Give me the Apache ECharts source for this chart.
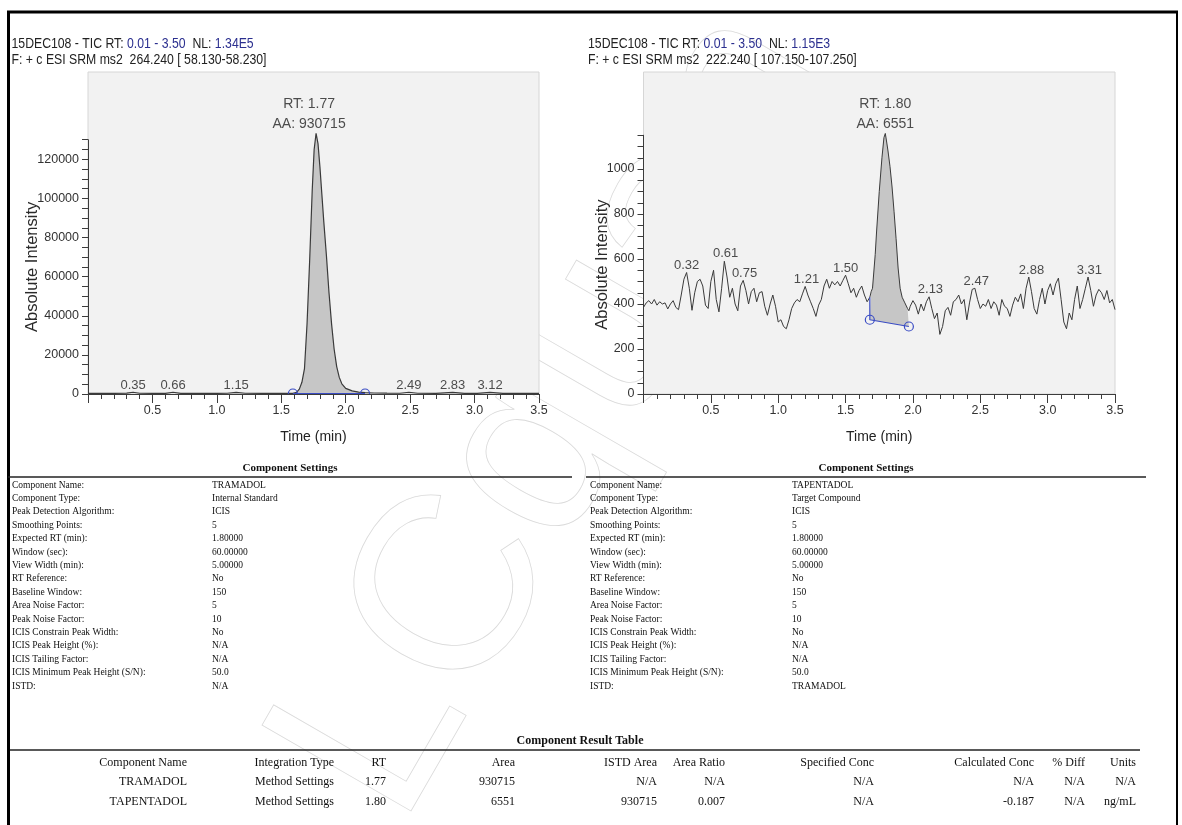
<!DOCTYPE html>
<html>
<head>
<meta charset="utf-8">
<script src="https://cdn.jsdelivr.net/npm/echarts@6/dist/echarts.min.js"></script>
<style>
html,body{margin:0;padding:0;background:#fff;}
#c{width:1182px;height:825px;}
</style>
</head>
<body>
<div id="c"></div>
<script>
// ---------------- DATA ----------------
// Left chromatogram (TRAMADOL, m/z 264.240)
const leftTrace = [
  [0.00,300],[0.10,350],[0.20,320],[0.30,400],[0.35,900],[0.40,380],[0.50,320],[0.60,360],[0.66,900],
  [0.72,360],[0.85,320],[1.00,340],[1.08,380],[1.15,800],[1.22,380],[1.35,320],[1.50,350],[1.59,350],
  [1.60,400],[1.62,900],[1.64,2500],[1.66,6000],[1.68,13000],[1.70,36000],[1.72,68000],[1.74,104000],
  [1.755,125000],[1.77,133300],[1.785,128000],[1.80,116000],[1.815,102000],[1.83,88000],[1.85,71000],
  [1.87,52000],[1.89,36000],[1.91,23000],[1.93,14000],[1.95,8500],[1.97,5200],[2.00,2900],[2.05,1600],
  [2.10,1000],[2.15,700],[2.22,500],[2.32,420],[2.42,380],[2.49,900],[2.56,380],[2.70,340],[2.83,850],
  [2.92,360],[3.02,330],[3.12,800],[3.22,360],[3.35,320],[3.50,300]
];
const leftBaseline = [[1.59,250],[2.15,250]];
const leftPeakLabels = [[0.35,900],[0.66,900],[1.15,800],[2.49,900],[2.83,850],[3.12,800]];
const leftApex = [1.77,133300];
const leftApexText = ['RT: 1.77','AA: 930715'];

// Right chromatogram (TAPENTADOL, m/z 222.240)
const rightTrace = [
  [0.00,385],[0.02,405],[0.04,415],[0.06,400],[0.08,420],[0.10,395],[0.12,410],[0.14,400],[0.16,405],
  [0.18,378],[0.20,400],[0.22,415],[0.24,385],[0.26,375],[0.28,440],[0.30,510],[0.32,540],[0.34,470],
  [0.36,372],[0.38,450],[0.40,500],[0.42,510],[0.44,480],[0.46,395],[0.48,380],[0.50,500],[0.52,550],
  [0.54,420],[0.56,365],[0.58,470],[0.60,590],[0.61,595],[0.62,520],[0.64,430],[0.66,470],[0.68,400],
  [0.70,370],[0.72,480],[0.74,505],[0.76,460],[0.78,400],[0.80,455],[0.82,470],[0.84,410],[0.86,450],
  [0.88,455],[0.90,390],[0.92,350],[0.94,400],[0.96,440],[0.98,390],[1.00,320],[1.02,330],[1.04,300],
  [1.06,290],[1.08,330],[1.10,380],[1.12,405],[1.14,420],[1.16,410],[1.18,445],[1.20,478],[1.22,440],
  [1.24,410],[1.26,380],[1.28,345],[1.30,395],[1.32,420],[1.34,480],[1.36,510],[1.38,470],[1.40,500],
  [1.42,485],[1.44,500],[1.46,480],[1.48,505],[1.50,528],[1.52,490],[1.54,450],[1.56,470],[1.58,430],
  [1.60,460],[1.62,480],[1.64,440],[1.66,410],[1.68,430],[1.69,455],[1.70,470],[1.72,620],[1.73,720],
  [1.75,900],[1.77,1050],[1.785,1140],[1.795,1158],[1.805,1120],[1.815,1080],[1.83,1010],[1.845,920],
  [1.86,810],[1.875,690],[1.89,560],[1.905,470],[1.92,430],[1.94,405],[1.96,380],[1.97,370],[1.98,390],
  [2.00,415],[2.02,395],[2.04,355],[2.06,400],[2.08,370],[2.10,410],[2.12,432],[2.14,380],[2.16,335],
  [2.18,360],[2.20,265],[2.22,300],[2.24,370],[2.26,385],[2.28,350],[2.30,410],[2.32,420],[2.34,440],
  [2.36,400],[2.38,420],[2.40,330],[2.42,405],[2.44,465],[2.46,470],[2.48,420],[2.50,380],[2.52,400],
  [2.54,390],[2.56,420],[2.58,380],[2.60,410],[2.62,395],[2.64,350],[2.66,420],[2.68,390],[2.70,380],
  [2.72,345],[2.74,395],[2.76,430],[2.78,410],[2.80,445],[2.82,380],[2.84,470],[2.86,520],[2.88,455],
  [2.90,380],[2.92,355],[2.94,420],[2.96,470],[2.98,400],[3.00,460],[3.02,490],[3.04,440],[3.06,490],
  [3.08,515],[3.10,420],[3.12,320],[3.14,290],[3.16,360],[3.18,330],[3.20,420],[3.22,480],[3.24,380],
  [3.26,420],[3.28,470],[3.30,520],[3.32,460],[3.34,390],[3.36,440],[3.38,465],[3.40,450],[3.42,420],
  [3.44,460],[3.46,405],[3.48,420],[3.50,375]
];
const rightBaseline = [[1.68,330],[1.97,300]];
const rightPeakLabels = [[0.32,540],[0.61,595],[0.75,505],[1.21,478],[1.50,528],[2.13,432],[2.47,470],[2.88,520],[3.31,520]];
const rightApex = [1.795,1158];
const rightApexText = ['RT: 1.80','AA: 6551'];

// Axis ranges / tick labels
const timeRange = [0, 3.5];
const leftYAxisTop = 130000, leftYStep = 5000, leftYLabelStep = 20000;
const rightYAxisTop = 1150, rightYStep = 50, rightYLabelStep = 200, rightYLabelMax = 1000;

// Header texts
const leftHeader1 = ['15DEC108 - TIC RT: ', '0.01 - 3.50', '  NL: ', '1.34E5'];
const leftHeader2 = 'F: + c ESI SRM ms2  264.240 [ 58.130-58.230]';
const rightHeader1 = ['15DEC108 - TIC RT: ', '0.01 - 3.50', '  NL: ', '1.15E3'];
const rightHeader2 = 'F: + c ESI SRM ms2  222.240 [ 107.150-107.250]';

// Settings tables
const settingsLabels = ['Component Name:','Component Type:','Peak Detection Algorithm:','Smoothing Points:',
  'Expected RT (min):','Window (sec):','View Width (min):','RT Reference:','Baseline Window:',
  'Area Noise Factor:','Peak Noise Factor:','ICIS Constrain Peak Width:','ICIS Peak Height (%):',
  'ICIS Tailing Factor:','ICIS Minimum Peak Height (S/N):','ISTD:'];
const leftSettings = ['TRAMADOL','Internal Standard','ICIS','5','1.80000','60.00000','5.00000','No','150','5','10','No','N/A','N/A','50.0','N/A'];
const rightSettings = ['TAPENTADOL','Target Compound','ICIS','5','1.80000','60.00000','5.00000','No','150','5','10','No','N/A','N/A','50.0','TRAMADOL'];

// Result table
const resultHeaders = ['Component Name','Integration Type','RT','Area','ISTD Area','Area Ratio','Specified Conc','Calculated Conc','% Diff','Units'];
const resultRows = [
  ['TRAMADOL','Method Settings','1.77','930715','N/A','N/A','N/A','N/A','N/A','N/A'],
  ['TAPENTADOL','Method Settings','1.80','6551','930715','0.007','N/A','-0.187','N/A','ng/mL']
];

// ---------------- LAYOUT ----------------
const SANS = '"Liberation Sans",Arial,sans-serif';
const SERIF = '"Liberation Serif","Times New Roman",serif';
const plotTop = 72, plotBottom = 394, plotH = plotBottom - plotTop;
const L = {left: 88, width: 451, scale: 234.7 / 120000};
const R = {left: 643.5, width: 471.5, scale: 45 / 200};

const chart = echarts.init(document.getElementById('c'), null, {renderer: 'canvas'});

function xAxisVisible(gridIndex) {
  return {
    gridIndex, type: 'value', min: timeRange[0], max: timeRange[1], interval: 0.5,
    axisLine: {lineStyle: {color: '#3c3c3c', width: 1}},
    axisTick: {show: true, length: 9, lineStyle: {color: '#3c3c3c'}},
    minorTick: {show: true, splitNumber: 5, length: 5, lineStyle: {color: '#3c3c3c'}},
    splitLine: {show: false}, minorSplitLine: {show: false},
    axisLabel: {fontFamily: SANS, fontSize: 12.5, color: '#333', margin: 10,
      formatter: v => v === 0 ? '' : v.toFixed(1)},
    name: 'Time (min)', nameLocation: 'middle', nameGap: 36, nameMoveOverlap: false,
    nameTextStyle: {fontFamily: SANS, fontSize: 14, color: '#222'}
  };
}
function xAxisHidden(gridIndex) {
  return {gridIndex, type: 'value', min: timeRange[0], max: timeRange[1], show: false};
}
function yAxisVisible(gridIndex, top, step, labelStep, labelMax, gap) {
  return {
    gridIndex, type: 'value', min: 0, max: top, interval: step,
    axisLine: {show: true, lineStyle: {color: '#3c3c3c', width: 1}},
    axisTick: {show: true, length: 6, lineStyle: {color: '#3c3c3c'}},
    splitLine: {show: false},
    axisLabel: {fontFamily: SANS, fontSize: 12.5, color: '#333', margin: 9, showMaxLabel: true,
      formatter: v => (v % labelStep === 0 && v <= labelMax) ? String(v) : ''},
    name: 'Absolute Intensity', nameLocation: 'middle', nameGap: gap, nameRotate: 90, nameMoveOverlap: false,
    nameTextStyle: {fontFamily: SANS, fontSize: 16.5, color: '#2a2a2a'}
  };
}

function shadeSeries(xi, yi, trace, base) {
  const inner = trace.filter(p => p[0] > base[0][0] && p[0] < base[1][0]);
  const poly = [base[0]].concat(inner, [base[1]]);
  return {
    type: 'custom', xAxisIndex: xi, yAxisIndex: yi, z: 1, silent: true,
    data: [base[0]],
    renderItem: (params, api) => ({
      type: 'polygon',
      shape: {points: poly.map(p => api.coord(p))},
      style: {fill: '#c6c6c6', stroke: 'none'}
    })
  };
}
function circleSeries(xi, yi, pts, clip) {
  return {
    type: 'custom', xAxisIndex: xi, yAxisIndex: yi, z: 5, clip: clip, silent: true,
    data: pts,
    renderItem: (params, api) => {
      const c = api.coord([api.value(0), api.value(1)]);
      return {type: 'circle', shape: {cx: c[0], cy: c[1], r: 4.5},
        style: {fill: 'none', stroke: '#3a4cc4', lineWidth: 1.2}};
    }
  };
}
function labelSeries(xi, yi, pts, fmt, size, lh, offset) {
  return {
    type: 'scatter', xAxisIndex: xi, yAxisIndex: yi, z: 6, silent: true,
    symbolSize: 1, itemStyle: {color: 'rgba(0,0,0,0)'},
    data: pts,
    label: {show: true, position: 'top', distance: -1, fontFamily: SANS, fontSize: size,
      lineHeight: lh, color: '#222', formatter: fmt, offset: offset || [0, 0]}
  };
}

// graphic texts
const graphics = [];
// watermark
graphics.push({type: 'text', x: 560, y: 415, rotation: Math.PI / 3, z: -10, silent: true,
  style: {text: 'LCquan', font: '250px ' + SANS, fill: 'rgba(0,0,0,0)', stroke: '#dadada', lineWidth: 0.8,
    textAlign: 'center', textVerticalAlign: 'middle'}});
// frame
graphics.push({type: 'line', shape: {x1: 8.5, y1: 11, x2: 8.5, y2: 825}, style: {stroke: '#000', lineWidth: 3}});
graphics.push({type: 'line', shape: {x1: 7, y1: 12, x2: 1178, y2: 12}, style: {stroke: '#000', lineWidth: 3}});
graphics.push({type: 'line', shape: {x1: 1177, y1: 11, x2: 1177, y2: 825}, style: {stroke: '#000', lineWidth: 2}});
// headers (condensed)
function header(x, parts, line2) {
  graphics.push({type: 'text', x: x, y: 44, scaleX: 0.875,
    style: {text: parts[0] + '{b|' + parts[1] + '}' + parts[2] + '{b|' + parts[3] + '}',
      font: '14px ' + SANS, fill: '#222', textVerticalAlign: 'middle',
      rich: {b: {fill: '#2b2f8f', font: '14px ' + SANS}}}});
  graphics.push({type: 'text', x: x, y: 60, scaleX: 0.875,
    style: {text: line2, font: '14px ' + SANS, fill: '#222', textVerticalAlign: 'middle'}});
}
header(11.5, leftHeader1, leftHeader2);
header(588, rightHeader1, rightHeader2);

// settings tables
function settingsTable(x0, x1, valueX, values) {
  const cx = (x0 + x1) / 2;
  graphics.push({type: 'text', x: cx, y: 468,
    style: {text: 'Component Settings', font: 'bold 11px ' + SERIF, fill: '#111', textAlign: 'center', textVerticalAlign: 'middle'}});
  graphics.push({type: 'line', shape: {x1: x0, y1: 477, x2: x1, y2: 477}, style: {stroke: '#222', lineWidth: 1.5}});
  settingsLabels.forEach((lab, i) => {
    const y = 485 + i * 13.4;
    graphics.push({type: 'text', x: x0 + 4, y: y,
      style: {text: lab, font: '9.5px ' + SERIF, fill: '#111', textVerticalAlign: 'middle'}});
    graphics.push({type: 'text', x: valueX, y: y,
      style: {text: values[i], font: '9.5px ' + SERIF, fill: '#111', textVerticalAlign: 'middle'}});
  });
}
settingsTable(8, 572, 212, leftSettings);
settingsTable(586, 1146, 792, rightSettings);

// result table
const resultColRight = [187, 334, 386, 515, 657, 725, 874, 1034, 1085, 1136];
graphics.push({type: 'text', x: 580, y: 741,
  style: {text: 'Component Result Table', font: 'bold 12px ' + SERIF, fill: '#111', textAlign: 'center', textVerticalAlign: 'middle'}});
graphics.push({type: 'line', shape: {x1: 10, y1: 750, x2: 1140, y2: 750}, style: {stroke: '#222', lineWidth: 1.5}});
resultHeaders.forEach((h, j) => {
  graphics.push({type: 'text', x: resultColRight[j], y: 763,
    style: {text: h, font: '12px ' + SERIF, fill: '#111', textAlign: 'right', textVerticalAlign: 'middle'}});
});
resultRows.forEach((row, i) => {
  row.forEach((v, j) => {
    graphics.push({type: 'text', x: resultColRight[j], y: 782 + i * 19.5,
      style: {text: v, font: '12px ' + SERIF, fill: '#111', textAlign: 'right', textVerticalAlign: 'middle'}});
  });
});

const option = {
  animation: false,
  backgroundColor: '#fff',
  grid: [
    {left: L.left, top: plotTop, width: L.width, height: plotH, show: true, backgroundColor: '#f2f2f2', borderColor: '#d6d6d6', borderWidth: 1},
    {left: L.left, top: plotBottom - leftYAxisTop * L.scale, width: L.width, height: leftYAxisTop * L.scale, show: false},
    {left: R.left, top: plotTop, width: R.width, height: plotH, show: true, backgroundColor: '#f2f2f2', borderColor: '#d6d6d6', borderWidth: 1},
    {left: R.left, top: plotBottom - rightYAxisTop * R.scale, width: R.width, height: rightYAxisTop * R.scale, show: false}
  ],
  xAxis: [xAxisVisible(0), xAxisHidden(1), xAxisVisible(2), xAxisHidden(3)],
  yAxis: [
    {gridIndex: 0, type: 'value', min: 0, max: plotH / L.scale, show: false},
    yAxisVisible(1, leftYAxisTop, leftYStep, leftYLabelStep, 120000, 47),
    {gridIndex: 2, type: 'value', min: 0, max: plotH / R.scale, show: false},
    yAxisVisible(3, rightYAxisTop, rightYStep, rightYLabelStep, rightYLabelMax, 33)
  ],
  graphic: graphics,
  series: [
    // left
    shadeSeries(0, 0, leftTrace, leftBaseline),
    {type: 'line', xAxisIndex: 0, yAxisIndex: 0, data: leftTrace, showSymbol: false, z: 3, silent: true,
      lineStyle: {color: '#3a3a3a', width: 1.2}},
    {type: 'line', xAxisIndex: 0, yAxisIndex: 0, data: leftBaseline, showSymbol: false, z: 4, silent: true,
      lineStyle: {color: '#3a4cc4', width: 1.2}},
    circleSeries(0, 0, leftBaseline, true),
    labelSeries(0, 0, leftPeakLabels, p => p.value[0].toFixed(2), 13, 15),
    labelSeries(0, 0, [leftApex], () => leftApexText.join('\n'), 14, 20, [-7, 0]),
    // right
    shadeSeries(2, 2, rightTrace, rightBaseline),
    {type: 'line', xAxisIndex: 2, yAxisIndex: 2, data: rightTrace, showSymbol: false, z: 3, silent: true,
      lineStyle: {color: '#3a3a3a', width: 1}},
    {type: 'line', xAxisIndex: 2, yAxisIndex: 2, silent: true, showSymbol: false, z: 4,
      data: [rightTrace.find(p => p[0] === rightBaseline[0][0])].concat(rightBaseline),
      lineStyle: {color: '#3a4cc4', width: 1.2}},
    circleSeries(2, 2, rightBaseline, false),
    labelSeries(2, 2, rightPeakLabels, p => p.value[0].toFixed(2), 13, 15),
    labelSeries(2, 2, [rightApex], () => rightApexText.join('\n'), 14, 20)
  ]
};
chart.setOption(option);
</script>
</body>
</html>
